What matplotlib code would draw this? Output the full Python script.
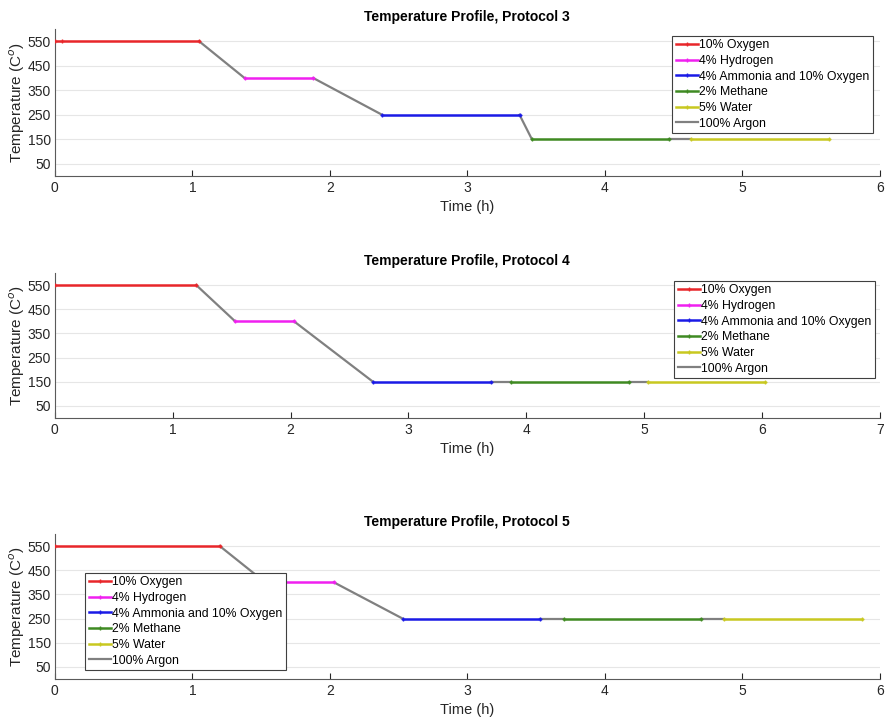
import numpy as np
import matplotlib.pyplot as plt

plt.rcParams['font.family'] = ['Liberation Sans', 'DejaVu Sans']

# gases, in order of the protocol
gases = ['10% Oxygen', '4% Hydrogen', '4% Ammonia and 10% Oxygen',
         '2% Methane', '5% Water']
gas_colors = ['#e8262a', '#f020f0', '#1a1ae6', '#3f8a22', '#c8c820']
argon_label = '100% Argon'
argon_color = '#808080'

# protocol 3: time points (h) of each gas step and its temperature (C)
p3_times = [[0, 0.05, 1.05], [1.38, 1.88], [2.38, 3.38], [3.47, 4.47], [4.63, 5.63]]
p3_temps = [550, 400, 250, 150, 150]

# protocol 4
p4_times = [[0, 1.20], [1.53, 2.03], [2.70, 3.70], [3.87, 4.87], [5.03, 6.03]]
p4_temps = [550, 400, 150, 150, 150]

# protocol 5
p5_times = [[0, 1.20], [1.53, 2.03], [2.53, 3.53], [3.70, 4.70], [4.87, 5.87]]
p5_temps = [550, 400, 250, 250, 250]

protocols = [('Temperature Profile, Protocol 3', p3_times, p3_temps, 6),
             ('Temperature Profile, Protocol 4', p4_times, p4_temps, 7),
             ('Temperature Profile, Protocol 5', p5_times, p5_temps, 6)]

yticks = [50, 150, 250, 350, 450, 550]

fig = plt.figure(figsize=(8.85, 7.2), dpi=100)
positions = [[0.062, 0.7556, 0.932, 0.204],
             [0.062, 0.4194, 0.932, 0.2014],
             [0.062, 0.0569, 0.932, 0.2014]]
legend_opts = [dict(loc='upper right', bbox_to_anchor=(0.992, 0.955)),
               dict(loc='upper right', bbox_to_anchor=(0.994, 0.948)),
               dict(loc='lower left', bbox_to_anchor=(0.037, 0.06))]

for pos, (title, times, temps, xmax), lopt in zip(positions, protocols, legend_opts):
    ax = fig.add_axes(pos)
    # argon ramps between the gas steps
    for i in range(len(times) - 1):
        ax.plot([times[i][-1], times[i + 1][0]], [temps[i], temps[i + 1]],
                color=argon_color, lw=1.6, zorder=2)
    handles = []
    for t, T, c, g in zip(times, temps, gas_colors, gases):
        h, = ax.plot(t, [T] * len(t), color=c, lw=1.8, marker='+', ms=3,
                     mew=1.0, label=g, zorder=3)
        handles.append(h)
    h_ar, = ax.plot([], [], color=argon_color, lw=1.6, label=argon_label)
    handles.append(h_ar)

    ax.set_xlim(0, xmax)
    ax.set_ylim(0, 600)
    ax.set_yticks(yticks)
    ax.set_xticks(range(0, xmax + 1))
    ax.yaxis.grid(True, color='#e6e6e6', lw=0.8)
    ax.set_axisbelow(True)
    for s in ['top', 'right']:
        ax.spines[s].set_visible(False)
    for s in ['left', 'bottom']:
        ax.spines[s].set_color('#5a5a5a')
    ax.tick_params(direction='in', colors='#262626', labelsize=10,
                   length=4, width=0.8)
    ax.tick_params(axis='y', length=0, pad=3)
    ax.set_title(title, fontsize=10, fontweight='bold', pad=6)
    ax.set_xlabel('Time (h)', fontsize=10.5, color='#262626', labelpad=4)
    ax.set_ylabel('Temperature (C$^{o}$)', fontsize=11, color='#262626', labelpad=0)
    leg = ax.legend(handles=handles, fontsize=8.8, fancybox=False, framealpha=1,
                    edgecolor='#404040', handlelength=1.8, handletextpad=0.1,
                    labelspacing=0.3, borderpad=0.3, borderaxespad=0, **lopt)
    leg.get_frame().set_linewidth(0.8)

fig.savefig('out.png', dpi=100)
